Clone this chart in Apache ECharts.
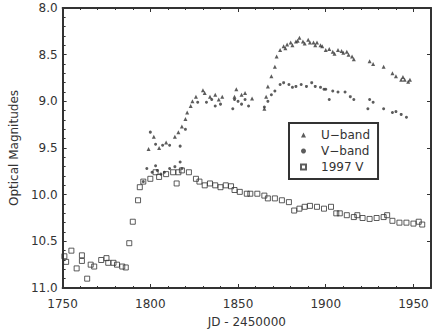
<!DOCTYPE html>
<html>
<head>
<meta charset="utf-8">
<script src="https://cdn.jsdelivr.net/npm/echarts@6/dist/echarts.min.js"></script>
<style>
  html, body { margin: 0; padding: 0; background: #fff; }
  #chart { width: 436px; height: 333px; }
</style>
</head>
<body>
<div id="chart"></div>
<script>
// [JD - 2450000, magnitude]
const uBand = [
  [1799, 9.51], [1802, 9.38], [1805, 9.5], [1809, 9.44], [1814, 9.38], [1816, 9.33],
  [1818, 9.27], [1820, 9.19], [1821, 9.12], [1823, 9.05], [1824, 9.0], [1826, 8.95],
  [1830, 8.88], [1831, 8.91], [1834, 8.95], [1837, 8.93], [1839, 8.98], [1841, 8.95],
  [1848, 8.95], [1849, 8.87], [1852, 8.93], [1854, 8.91], [1858, 8.97],
  [1865, 9.08], [1866, 8.95], [1867, 8.84], [1869, 8.73], [1871, 8.63], [1872, 8.52],
  [1874, 8.45], [1876, 8.41], [1877, 8.43], [1878, 8.39], [1880, 8.37], [1881, 8.4],
  [1883, 8.36], [1884, 8.35], [1885, 8.32], [1887, 8.36], [1888, 8.38], [1890, 8.34],
  [1891, 8.37], [1893, 8.37], [1894, 8.4], [1895, 8.37], [1897, 8.4], [1898, 8.41],
  [1900, 8.45], [1902, 8.44], [1904, 8.47], [1905, 8.49], [1907, 8.45], [1909, 8.46],
  [1910, 8.48], [1912, 8.47], [1913, 8.5], [1915, 8.52], [1916, 8.55], [1925, 8.57],
  [1927, 8.6], [1933, 8.63], [1938, 8.7], [1940, 8.73], [1943, 8.77], [1944, 8.74],
  [1945, 8.77], [1947, 8.79], [1948, 8.77]
];

const vBand = [
  [1796, 9.86], [1798, 9.72], [1801, 9.76], [1803, 9.69], [1804, 9.74], [1806, 9.78],
  [1808, 9.76], [1811, 9.72], [1814, 9.7], [1817, 9.65], [1818, 9.72],
  [1800, 9.33], [1803, 9.46], [1807, 9.47], [1811, 9.47], [1817, 9.48], [1820, 9.3],
  [1827, 9.01], [1832, 9.01], [1835, 8.98], [1837, 9.05], [1840, 9.03],
  [1847, 9.08], [1848, 8.98], [1850, 9.0], [1852, 9.03], [1854, 8.98], [1856, 9.05],
  [1865, 9.06], [1867, 9.0], [1869, 8.93], [1871, 8.89], [1874, 8.82], [1876, 8.8],
  [1879, 8.82], [1881, 8.85], [1883, 8.84], [1886, 8.82], [1889, 8.84], [1892, 8.8],
  [1894, 8.84], [1897, 8.85], [1899, 8.87], [1900, 8.87], [1902, 8.98], [1904, 8.89],
  [1907, 8.9], [1911, 8.9], [1914, 8.95], [1916, 8.98], [1924, 9.08], [1925, 8.98],
  [1927, 9.01], [1933, 9.08], [1938, 9.12], [1940, 9.11], [1943, 9.14], [1946, 9.17]
];

const v1997 = [
  [1751, 10.66], [1752, 10.72], [1755, 10.6], [1758, 10.79], [1761, 10.65], [1761, 10.71],
  [1764, 10.9], [1766, 10.75], [1768, 10.77], [1772, 10.7], [1775, 10.68], [1776, 10.73],
  [1779, 10.73], [1781, 10.75], [1784, 10.77], [1786, 10.78], [1788, 10.52], [1790, 10.29],
  [1793, 10.06], [1794, 9.92], [1796, 9.86], [1800, 9.83], [1803, 9.76], [1805, 9.81],
  [1809, 9.78], [1813, 9.76], [1815, 9.88], [1816, 9.76], [1818, 9.74], [1822, 9.76],
  [1826, 9.83], [1828, 9.86], [1831, 9.9], [1834, 9.88], [1837, 9.9], [1840, 9.92],
  [1843, 9.9], [1846, 9.91], [1848, 9.95], [1851, 9.97], [1855, 9.99], [1857, 9.99],
  [1861, 9.99], [1865, 10.01], [1867, 10.04], [1871, 10.04], [1875, 10.06], [1879, 10.08],
  [1882, 10.17], [1885, 10.15], [1888, 10.13], [1891, 10.12], [1895, 10.13], [1899, 10.15],
  [1903, 10.13], [1906, 10.2], [1908, 10.2], [1912, 10.22], [1916, 10.24], [1918, 10.22],
  [1921, 10.25], [1925, 10.26], [1929, 10.25], [1933, 10.24], [1935, 10.22], [1938, 10.28],
  [1942, 10.3], [1946, 10.3], [1950, 10.31], [1953, 10.29], [1955, 10.32]
];

const seriesNames = ['U\u2212band', 'V\u2212band', '1997 V'];
const xTicks = [1750, 1800, 1850, 1900, 1950];

const ink = '#333333';
const font = 'DejaVu Sans';

function frameAxis(extra) {
  return Object.assign({
    type: 'value',
    axisLine: { show: true, onZero: false, lineStyle: { color: ink, width: 2 } },
    axisTick: { show: true, inside: true, length: 4, lineStyle: { color: ink, width: 1 } },
    splitLine: { show: false },
    axisLabel: { show: false }
  }, extra);
}

const chart = echarts.init(document.getElementById('chart'), null, { renderer: 'svg' });

const option = {
  animation: false,
  grid: { left: 58, top: 8, right: 5, bottom: 43 },
  legend: {
    orient: 'vertical',
    left: 289,
    top: 123,
    borderColor: ink,
    borderWidth: 2,
    padding: [6, 8, 6, 11],
    itemGap: 4,
    itemWidth: 5,
    itemHeight: 5,
    textStyle: { fontFamily: font, fontSize: 12, color: ink, padding: [0, 0, 0, 10] },
    data: seriesNames
  },
  xAxis: [
    frameAxis({
      position: 'bottom',
      min: 1750,
      max: 1960,
      interval: 50,
      name: 'JD - 2450000',
      nameLocation: 'middle',
      nameGap: 28,
      nameTextStyle: { fontFamily: font, fontSize: 12, color: ink },
      minorTick: { show: true, splitNumber: 5, length: 2, lineStyle: { color: ink } },
      axisLabel: {
        show: true, fontFamily: font, fontSize: 12, color: ink, margin: 10,
        formatter: v => (xTicks.indexOf(v) >= 0 ? String(v) : '')
      }
    }),
    frameAxis({
      position: 'top',
      min: 1750,
      max: 1960,
      interval: 50,
      minorTick: { show: true, splitNumber: 5, length: 2, lineStyle: { color: ink } }
    })
  ],
  yAxis: [
    frameAxis({
      position: 'left',
      inverse: true,
      min: 8,
      max: 11,
      interval: 0.5,
      name: 'Optical Magnitudes',
      nameLocation: 'middle',
      nameGap: 40,
      nameTextStyle: { fontFamily: font, fontSize: 12, color: ink },
      minorTick: { show: true, splitNumber: 5, length: 3, lineStyle: { color: ink } },
      axisLabel: {
        show: true, fontFamily: font, fontSize: 12, color: ink, margin: 5,
        formatter: v => v.toFixed(1)
      }
    }),
    frameAxis({
      position: 'right',
      inverse: true,
      min: 8,
      max: 11,
      interval: 0.5
    })
  ],
  series: [
    {
      name: seriesNames[0],
      type: 'scatter',
      symbol: 'triangle',
      symbolSize: 4,
      itemStyle: { color: ink },
      data: uBand
    },
    {
      name: seriesNames[1],
      type: 'scatter',
      symbol: 'circle',
      symbolSize: 3,
      itemStyle: { color: ink },
      data: vBand
    },
    {
      name: seriesNames[2],
      type: 'scatter',
      symbol: 'rect',
      symbolSize: 5,
      itemStyle: { color: 'transparent', borderColor: ink, borderWidth: 1 },
      data: v1997
    }
  ]
};

chart.setOption(option);
</script>
</body>
</html>
